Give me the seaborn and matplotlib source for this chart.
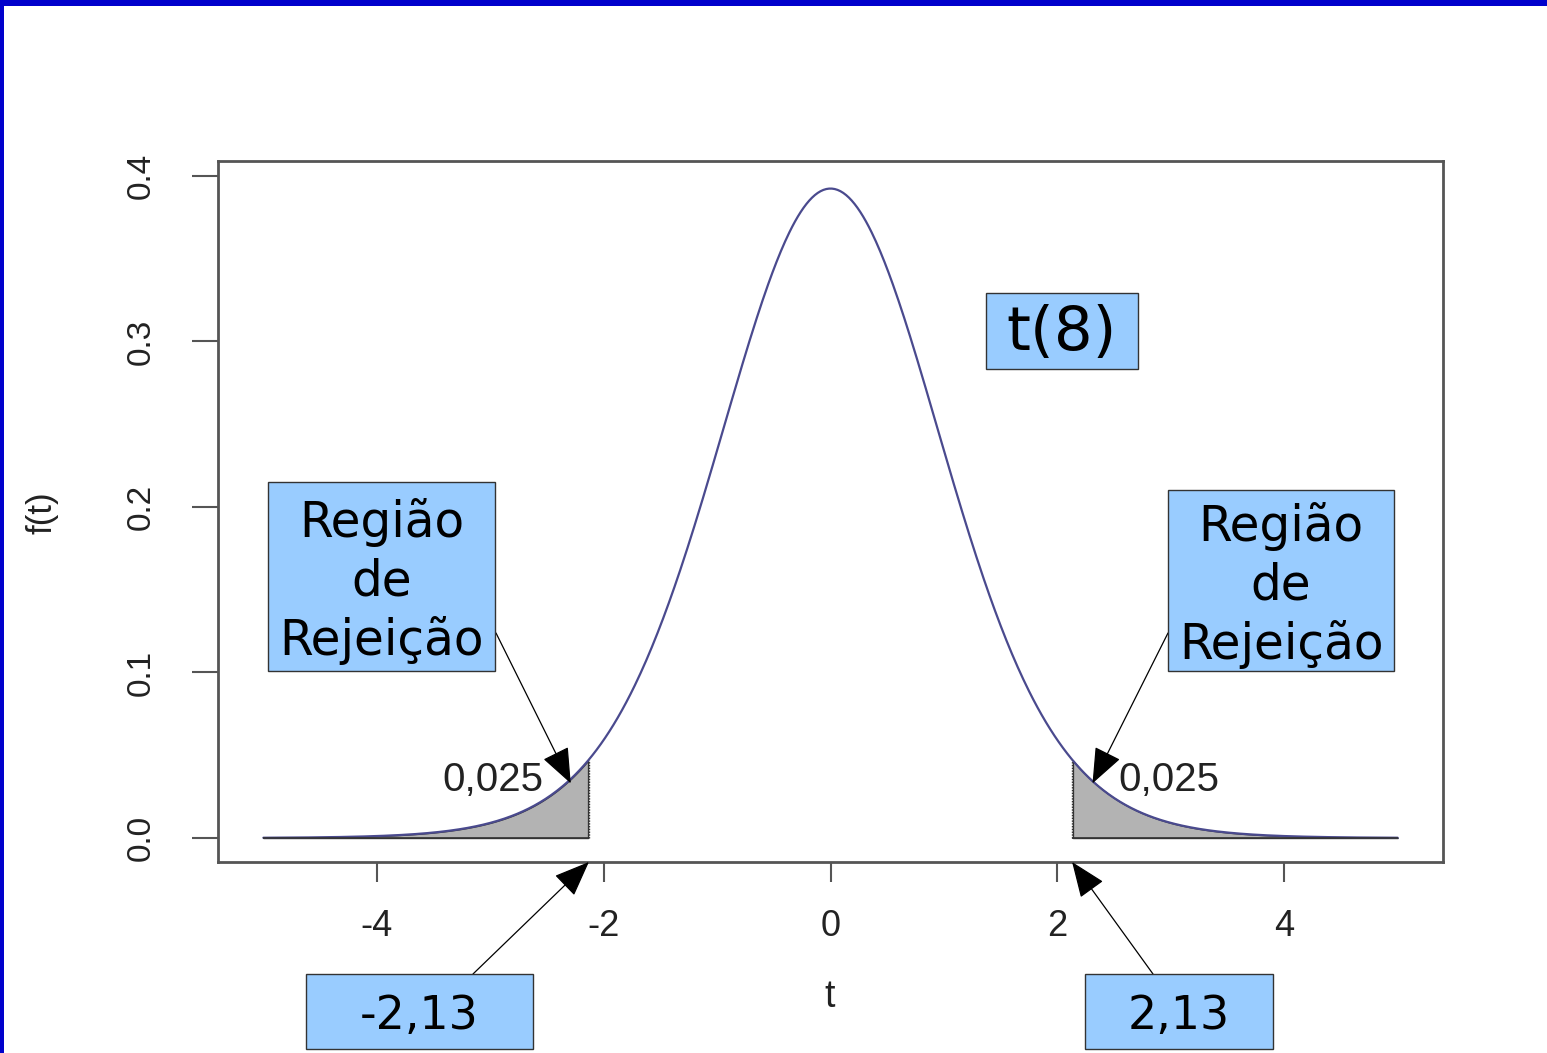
import math
import numpy as np
import pandas as pd
import matplotlib
matplotlib.use("Agg")
import matplotlib.pyplot as plt
from matplotlib.patches import Rectangle
import seaborn as sns

# ---------------- data ----------------
curve_df = 15            # degrees of freedom of the drawn density
crit_value = 2.13        # critical value
t_range = (-5.0, 5.0)
tail_area_label = "0,025"
dist_label = "t(8)"
region_label = "Região\nde\nRejeição"
crit_labels = ["-2,13", "2,13"]
x_ticks = [-4, -2, 0, 2, 4]
y_ticks = [0.0, 0.1, 0.2, 0.3, 0.4]
y_tick_labels = ["0.0", "0.1", "0.2", "0.3", "0.4"]


def t_pdf(x, df):
    c = math.gamma((df + 1) / 2) / (math.sqrt(df * math.pi) * math.gamma(df / 2))
    return c * (1 + x ** 2 / df) ** (-(df + 1) / 2)


t_vals = np.linspace(t_range[0], t_range[1], 801)
dens = t_pdf(t_vals, curve_df)
data = pd.DataFrame({"t": t_vals, "f": dens})

# ---------------- figure ----------------
W, H = 1547, 1053
sns.set_style("white")
plt.rcParams["font.family"] = ["Liberation Sans", "DejaVu Sans"]

fig = plt.figure(figsize=(W / 100, H / 100), dpi=100)
fig.patch.set_facecolor("white")


def fx(px):
    return px / W


def fy(py):
    return 1 - py / H


ax = fig.add_axes([fx(218), fy(862), fx(1443) - fx(218), fy(161) - fy(862)])

sns.lineplot(data=data, x="t", y="f", ax=ax, color="#4a4a8e", linewidth=1.6)

left_mask = data["t"] <= -crit_value
right_mask = data["t"] >= crit_value
for m in (left_mask, right_mask):
    sub = data[m]
    ax.fill_between(sub["t"], 0, sub["f"], facecolor="#b3b3b3",
                    edgecolor="#333333", linewidth=1.0, zorder=1)
ax.vlines([-crit_value, crit_value], 0, t_pdf(crit_value, curve_df),
          colors="#333333", linewidth=1.0, linestyles=(0, (1, 1)), zorder=2)
ax.hlines(0, -5, -crit_value, colors="#333333", linewidth=1.2, zorder=2)
ax.hlines(0, crit_value, 5, colors="#333333", linewidth=1.2, zorder=2)

ax.set_xlim(-5.4, 5.4)
ax.set_ylim(-0.0145, 0.409)
ax.set_xticks(x_ticks)
ax.set_xticklabels([str(v) for v in x_ticks])
ax.set_yticks(y_ticks)
ax.set_yticklabels(y_tick_labels)

for sp in ax.spines.values():
    sp.set_visible(True)
    sp.set_color("#555555")
    sp.set_linewidth(2.0)

ax.tick_params(axis="x", direction="out", length=14.5, width=1.5,
               color="#555555", labelsize=26, labelcolor="#222222", pad=19,
               bottom=True)
ax.tick_params(axis="y", direction="out", length=19, width=1.5,
               color="#555555", labelsize=24, labelcolor="#222222", pad=25,
               left=True)
for lbl in ax.get_yticklabels():
    lbl.set_rotation(90)
    lbl.set_va("center")

ax.set_xlabel("")
ax.set_ylabel("")
fig.text(fx(830), fy(997), "t", ha="center", va="center", fontsize=27,
         color="#222222")
fig.text(fx(42), fy(513), "f(t)", ha="center", va="center", fontsize=25,
         color="#222222", rotation=90)

# tail labels
ax.text(-2.53, 0.035, tail_area_label, ha="right", va="center",
        fontsize=29, color="#222222")
ax.text(2.54, 0.035, tail_area_label, ha="left", va="center",
        fontsize=29, color="#222222")

# ---------------- annotation boxes ----------------
box_fc = "#99ccff"
box_ec = "#333333"


def box(x0, y0, x1, y1, text, size, dy=0, ls=1.2):
    r = Rectangle((fx(x0), fy(y1)), fx(x1) - fx(x0), fy(y0) - fy(y1),
                  transform=fig.transFigure, facecolor=box_fc,
                  edgecolor=box_ec, linewidth=1.0, zorder=5)
    fig.add_artist(r)
    fig.text(fx((x0 + x1) / 2), fy((y0 + y1) / 2 + dy), text, ha="center",
             va="center", fontsize=size, family="DejaVu Sans",
             color="black", linespacing=ls, zorder=6)


box(986, 293, 1138, 369, dist_label, 44, dy=3)
box(268, 482, 495, 671, region_label, 35, dy=5, ls=1.26)
box(1168, 490, 1394, 671, region_label, 35, dy=5, ls=1.26)
box(306, 974, 533, 1049, crit_labels[0], 33, dy=5)
box(1085, 974, 1273, 1049, crit_labels[1], 33, dy=5)

# arrows
arrow_kw = dict(arrowstyle="-|>,head_length=1.25,head_width=0.5",
                color="black", lw=0.9, mutation_scale=18,
                shrinkA=0, shrinkB=0)
y_tip = 0.033
ax.annotate("", xy=(-2.29, y_tip), xycoords="data",
            xytext=(fx(496), fy(633)), textcoords="figure fraction",
            arrowprops=arrow_kw, annotation_clip=False, zorder=7)
ax.annotate("", xy=(2.31, y_tip), xycoords="data",
            xytext=(fx(1168), fy(633)), textcoords="figure fraction",
            arrowprops=arrow_kw, annotation_clip=False, zorder=7)
ax.annotate("", xy=(-crit_value, -0.0145), xycoords="data",
            xytext=(fx(473), fy(974)), textcoords="figure fraction",
            arrowprops=arrow_kw, annotation_clip=False, zorder=7)
ax.annotate("", xy=(crit_value, -0.0145), xycoords="data",
            xytext=(fx(1153), fy(974)), textcoords="figure fraction",
            arrowprops=arrow_kw, annotation_clip=False, zorder=7)

# slide border (blue)
fig.add_artist(Rectangle((0, fy(6)), 1, fy(0) - fy(6), transform=fig.transFigure,
                         facecolor="#0000cc", edgecolor="none", zorder=10))
fig.add_artist(Rectangle((0, 0), fx(4), 1, transform=fig.transFigure,
                         facecolor="#0000cc", edgecolor="none", zorder=10))

fig.savefig("out.png", dpi=100)
